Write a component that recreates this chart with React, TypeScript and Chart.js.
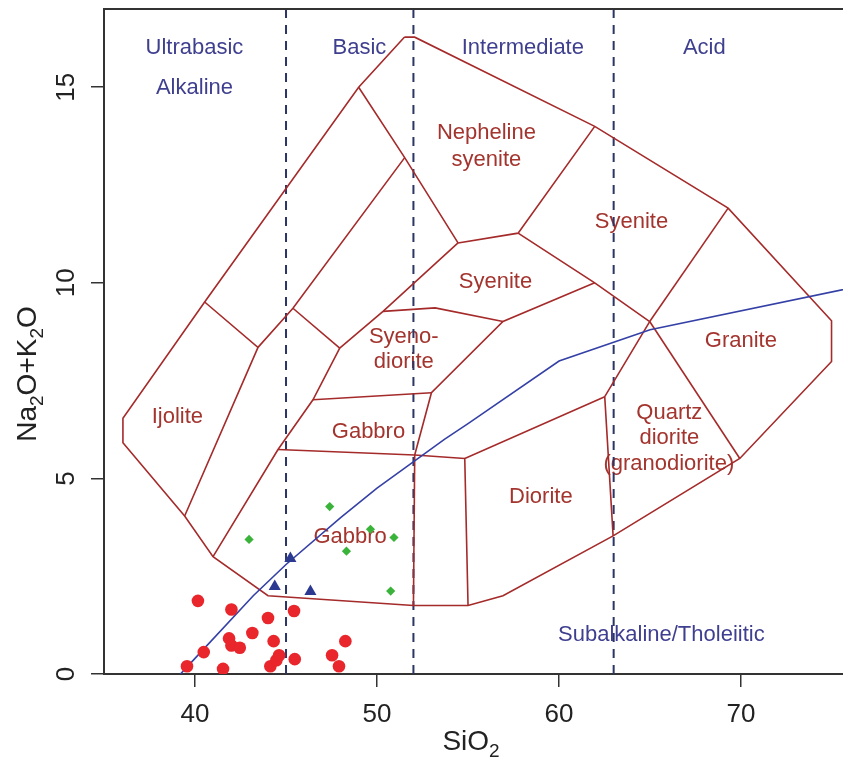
import React, { useEffect, useRef } from 'react';
import { Chart, registerables } from 'chart.js';

Chart.register(...registerables);

const FONT = '"Liberation Sans", Arial, Helvetica, sans-serif';

// ---------- axes ----------
const xTicks = [40, 50, 60, 70];
const yTicks = [0, 5, 10, 15];
const X_MIN = 35;
const X_MAX = 75.6;
const Y_MIN = 0;
const Y_MAX = 17;

// ---------- silica classes (dashed) ----------
const silicaDivisions = [45, 52, 63];

// ---------- Irvine & Baragar (1971) alkaline / subalkaline divide ----------
const ibSiO2 = [39.2, 40, 43.2, 45, 48, 50, 53.7, 55, 60, 65, 77.4];
const ibAlk = [0, 0.4, 2, 2.8, 4, 4.75, 6, 6.4, 8, 8.8, 10];

// ---------- field boundaries (SiO2, Na2O+K2O) ----------
const outerBoundary: [number, number][] = [
  [51.5, 16.28], [52.07, 16.28], [61.96, 14.0], [69.29, 11.91], [74.97, 9.03],
  [74.97, 7.99], [69.93, 5.51], [62.97, 3.53], [56.92, 2.0], [55.0, 1.75],
  [52.0, 1.75], [44.01, 2.0], [40.99, 3.0], [39.43, 4.04], [36.04, 5.91],
  [36.04, 6.54], [40.53, 9.51], [48.99, 15.0], [51.5, 16.28],
];
const lineNephelineLeft: [number, number][] = [[48.99, 15.0], [51.52, 13.2], [54.45, 11.02]];
const lineNephelineBase: [number, number][] = [[54.45, 11.02], [57.75, 11.27], [61.96, 14.0]];
const lineSyeniteBase: [number, number][] = [[57.75, 11.27], [61.96, 10.0], [64.98, 9.01]];
const lineSyeniteGranite: [number, number][] = [[69.29, 11.91], [64.98, 9.01]];
const lineGraniteQuartz: [number, number][] = [[64.98, 9.01], [69.93, 5.51]];
const lineQuartzDiorite: [number, number][] = [[64.98, 9.01], [62.51, 7.09], [62.97, 3.53]];
const lineDioriteTop: [number, number][] = [[62.51, 7.09], [54.82, 5.51], [55.0, 1.75]];
const lineGabbroBase: [number, number][] = [[54.82, 5.51], [52.07, 5.6], [44.56, 5.74]];
const lineGabbroRight: [number, number][] = [[52.07, 5.6], [52.0, 1.75]];
const lineSyenodioriteRight: [number, number][] = [[52.07, 5.6], [52.99, 7.19], [56.92, 9.01], [61.96, 10.0]];
const lineSyeniteBottom: [number, number][] = [[50.33, 9.27], [53.19, 9.36], [56.92, 9.01]];
const lineSyeniteLeft: [number, number][] = [[54.45, 11.02], [50.33, 9.27], [47.95, 8.33]];
const lineUpperStrip: [number, number][] = [[43.46, 8.35], [45.38, 9.35], [51.52, 13.2]];
const lineMiddleStrip: [number, number][] = [[45.38, 9.35], [47.95, 8.33]];
const lineGabbroLeft: [number, number][] = [[40.99, 3.0], [44.56, 5.74], [46.48, 7.01], [47.95, 8.33]];
const lineGabbroTop: [number, number][] = [[46.48, 7.01], [52.99, 7.19]];
const lineIjoliteRight: [number, number][] = [[39.43, 4.04], [43.46, 8.35], [40.53, 9.51]];

const fieldLines = [
  outerBoundary, lineNephelineLeft, lineNephelineBase, lineSyeniteBase, lineSyeniteGranite,
  lineGraniteQuartz, lineQuartzDiorite, lineDioriteTop, lineGabbroBase, lineGabbroRight,
  lineSyenodioriteRight, lineSyeniteBottom, lineSyeniteLeft, lineUpperStrip, lineMiddleStrip,
  lineGabbroLeft, lineGabbroTop, lineIjoliteRight,
];

// ---------- samples ----------
const circleSiO2 = [40.16, 42.0, 44.01, 45.44, 43.15, 41.87, 42.0, 42.46, 44.32, 40.48, 39.56, 41.54, 44.14, 44.47, 44.62, 45.48, 48.26, 47.53, 47.91];
const circleAlk = [1.87, 1.65, 1.43, 1.61, 1.05, 0.91, 0.73, 0.67, 0.84, 0.56, 0.2, 0.13, 0.2, 0.35, 0.48, 0.38, 0.84, 0.48, 0.2];

const triangleSiO2 = [45.24, 44.38, 46.34];
const triangleAlk = [2.95, 2.24, 2.11];

const diamondSiO2 = [42.97, 47.4, 49.64, 50.93, 48.32, 50.75];
const diamondAlk = [3.44, 4.28, 3.7, 3.49, 3.14, 2.12];

// ---------- text ----------
const classLabels: [string, number, number][] = [
  ['Ultrabasic', 39.97, 16.01],
  ['Alkaline', 39.97, 14.99],
  ['Basic', 49.03, 16.01],
  ['Intermediate', 58.01, 16.01],
  ['Acid', 67.98, 16.01],
  ['Subalkaline/Tholeiitic', 65.62, 0.99],
];
const fieldLabels: [string, number, number][] = [
  ['Nepheline', 56.01, 13.82],
  ['syenite', 56.01, 13.15],
  ['Syenite', 63.98, 11.56],
  ['Syenite', 56.51, 10.03],
  ['Syeno-', 51.47, 8.62],
  ['diorite', 51.47, 7.98],
  ['Gabbro', 49.53, 6.19],
  ['Gabbro', 48.52, 3.5],
  ['Ijolite', 39.03, 6.57],
  ['Diorite', 59.0, 4.52],
  ['Granite', 69.99, 8.51],
  ['Quartz', 66.06, 6.67],
  ['diorite', 66.06, 6.03],
  ['(granodiorite)', 66.03, 5.37],
];

const FIELD_COLOR = '#a52a2a';
const FIELD_TEXT = '#a3342e';
const CLASS_TEXT = '#3f3f90';
const AXIS_COLOR = '#333333';

const toXY = (xs: number[], ys: number[]) => xs.map((x, i) => ({ x, y: ys[i] }));

function drawSubText(ctx: CanvasRenderingContext2D, parts: [string, boolean][], big: number, small: number, drop: number) {
  let total = 0;
  const widths = parts.map(([t, sub]) => {
    ctx.font = `${sub ? small : big}px ${FONT}`;
    const w = ctx.measureText(t).width;
    total += w;
    return w;
  });
  let cx = -total / 2;
  ctx.textAlign = 'left';
  ctx.textBaseline = 'alphabetic';
  parts.forEach(([t, sub], i) => {
    ctx.font = `${sub ? small : big}px ${FONT}`;
    ctx.fillText(t, cx, sub ? drop : 0);
    cx += widths[i];
  });
}

const tasPlugin = {
  id: 'tasDecor',
  beforeDatasetsDraw(chart: any) {
    const { ctx, scales } = chart;
    const xs = scales.x;
    const ys = scales.y;
    ctx.save();
    ctx.textAlign = 'center';
    ctx.textBaseline = 'middle';
    ctx.font = `22px ${FONT}`;
    ctx.fillStyle = CLASS_TEXT;
    classLabels.forEach(([t, x, y]) => ctx.fillText(t, xs.getPixelForValue(x), ys.getPixelForValue(y)));
    ctx.fillStyle = FIELD_TEXT;
    fieldLabels.forEach(([t, x, y]) => ctx.fillText(t, xs.getPixelForValue(x), ys.getPixelForValue(y)));
    ctx.restore();
  },
  afterDraw(chart: any) {
    const { ctx, chartArea, scales } = chart;
    const ys = scales.y;
    ctx.save();
    // top frame line
    ctx.strokeStyle = AXIS_COLOR;
    ctx.lineWidth = 2;
    ctx.beginPath();
    ctx.moveTo(chartArea.left - 1, chartArea.top);
    ctx.lineTo(chartArea.right, chartArea.top);
    ctx.stroke();
    // rotated y tick labels
    ctx.fillStyle = '#222';
    ctx.font = `26px ${FONT}`;
    ctx.textAlign = 'center';
    ctx.textBaseline = 'alphabetic';
    ys.ticks.forEach((tk: any) => {
      const py = ys.getPixelForValue(tk.value);
      ctx.save();
      ctx.translate(74, py);
      ctx.rotate(-Math.PI / 2);
      ctx.fillText(String(tk.value), 0, 0);
      ctx.restore();
    });
    // axis titles
    ctx.fillStyle = '#222';
    ctx.save();
    ctx.translate(471, 750);
    drawSubText(ctx, [['SiO', false], ['2', true]], 28, 19, 7);
    ctx.restore();
    ctx.save();
    ctx.translate(36, 374);
    ctx.rotate(-Math.PI / 2);
    drawSubText(ctx, [['Na', false], ['2', true], ['O+K', false], ['2', true], ['O', false]], 28, 19, 7);
    ctx.restore();
    ctx.restore();
  },
};

export default function App() {
  const ref = useRef<HTMLCanvasElement | null>(null);

  useEffect(() => {
    if (!ref.current) return;
    const datasets: any[] = [];

    datasets.push({
      label: 'circles',
      data: toXY(circleSiO2, circleAlk),
      pointStyle: 'circle',
      pointRadius: 6.3,
      backgroundColor: '#e8262b',
      borderColor: '#e8262b',
      borderWidth: 0,
      showLine: false,
    });
    datasets.push({
      label: 'triangles',
      data: toXY(triangleSiO2, triangleAlk),
      pointStyle: 'triangle',
      pointRadius: 7,
      backgroundColor: '#2c3990',
      borderColor: '#2c3990',
      borderWidth: 0,
      showLine: false,
    });
    datasets.push({
      label: 'diamonds',
      data: toXY(diamondSiO2, diamondAlk),
      pointStyle: 'rectRot',
      pointRadius: 4.6,
      backgroundColor: '#39b339',
      borderColor: '#39b339',
      borderWidth: 0,
      showLine: false,
    });
    datasets.push({
      label: 'Irvine-Baragar',
      data: toXY(ibSiO2, ibAlk),
      showLine: true,
      borderColor: '#3440a6',
      borderWidth: 1.6,
      pointRadius: 0,
      fill: false,
    });
    fieldLines.forEach((line, i) => {
      datasets.push({
        label: 'field' + i,
        data: line.map(([x, y]) => ({ x, y })),
        showLine: true,
        borderColor: FIELD_COLOR,
        borderWidth: 1.6,
        pointRadius: 0,
        fill: false,
      });
    });
    silicaDivisions.forEach((s) => {
      datasets.push({
        label: 'div' + s,
        data: [{ x: s, y: Y_MIN }, { x: s, y: Y_MAX }],
        showLine: true,
        borderColor: '#2b3566',
        borderWidth: 2,
        borderDash: [9, 7],
        pointRadius: 0,
        fill: false,
      });
    });

    const chart = new Chart(ref.current, {
      type: 'scatter',
      data: { datasets },
      options: {
        animation: false,
        responsive: false,
        maintainAspectRatio: false,
        events: [],
        layout: { autoPadding: false, padding: { top: 9, left: 0, right: 0, bottom: 0 } },
        plugins: {
          legend: { display: false },
          tooltip: { enabled: false },
          title: { display: false },
        },
        scales: {
          x: {
            type: 'linear',
            min: X_MIN,
            max: X_MAX,
            afterBuildTicks: (s: any) => { s.ticks = xTicks.map((v) => ({ value: v })); },
            afterFit: (s: any) => { s.height = 86; s.paddingLeft = 0; s.paddingRight = 0; },
            grid: { drawOnChartArea: false, drawTicks: true, tickLength: 13, color: AXIS_COLOR, lineWidth: 1.5 },
            border: { display: true, color: AXIS_COLOR, width: 2 },
            ticks: { color: '#222', font: { size: 26, family: FONT }, padding: 12, maxRotation: 0 },
          },
          y: {
            type: 'linear',
            min: Y_MIN,
            max: Y_MAX,
            afterBuildTicks: (s: any) => { s.ticks = yTicks.map((v) => ({ value: v })); },
            afterFit: (s: any) => { s.width = 104; s.paddingTop = 0; s.paddingBottom = 0; },
            grid: { drawOnChartArea: false, drawTicks: true, tickLength: 13, color: AXIS_COLOR, lineWidth: 1.5 },
            border: { display: true, color: AXIS_COLOR, width: 2 },
            ticks: { display: false },
          },
        },
      },
      plugins: [tasPlugin],
    } as any);
    return () => chart.destroy();
  }, []);

  return (
    <div style={{ position: 'absolute', left: 0, top: 0, width: 843, height: 760, background: '#ffffff' }}>
      <canvas ref={ref} width={843} height={760} style={{ display: 'block' }} />
    </div>
  );
}
